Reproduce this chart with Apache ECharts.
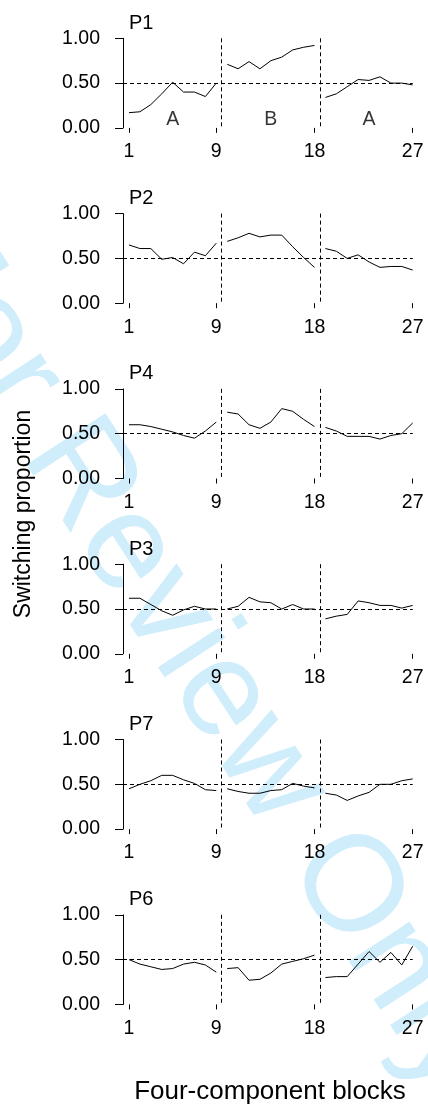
<!DOCTYPE html>
<html>
<head>
<meta charset="utf-8">
<script src="https://cdn.jsdelivr.net/npm/echarts@6/dist/echarts.min.js"></script>
<style>
  html, body { margin: 0; padding: 0; background: #fff; }
  #main { width: 428px; height: 1104px; }
</style>
</head>
<body>
<div id="main"></div>
<script>
// proportions per block (27 blocks: A 1-9, B 10-18, A 19-27)
const panelNames = ['P1', 'P2', 'P4', 'P3', 'P7', 'P6'];
const p1 = [0.17, 0.18, 0.26, 0.38, 0.51, 0.40, 0.40, 0.35, 0.50,
            0.71, 0.66, 0.74, 0.66, 0.75, 0.79, 0.87, 0.90, 0.92,
            0.34, 0.38, 0.46, 0.54, 0.53, 0.57, 0.50, 0.50, 0.48];
const p2 = [0.65, 0.61, 0.61, 0.49, 0.51, 0.44, 0.57, 0.53, 0.67,
            0.69, 0.73, 0.78, 0.74, 0.76, 0.76, 0.63, 0.51, 0.40,
            0.61, 0.58, 0.50, 0.54, 0.46, 0.40, 0.41, 0.41, 0.37];
const p4 = [0.60, 0.60, 0.58, 0.55, 0.52, 0.48, 0.45, 0.53, 0.63,
            0.74, 0.72, 0.60, 0.56, 0.63, 0.78, 0.75, 0.66, 0.58,
            0.57, 0.53, 0.47, 0.47, 0.47, 0.44, 0.48, 0.50, 0.62];
const p3 = [0.62, 0.62, 0.55, 0.48, 0.43, 0.49, 0.53, 0.50, 0.50,
            0.50, 0.53, 0.63, 0.58, 0.57, 0.50, 0.55, 0.50, 0.50,
            0.39, 0.42, 0.44, 0.59, 0.57, 0.54, 0.54, 0.51, 0.54];
const p7 = [0.45, 0.50, 0.54, 0.60, 0.60, 0.55, 0.51, 0.44, 0.43,
            0.45, 0.42, 0.40, 0.40, 0.43, 0.44, 0.51, 0.48, 0.46,
            0.40, 0.38, 0.32, 0.37, 0.41, 0.50, 0.50, 0.54, 0.56];
const p6 = [0.50, 0.45, 0.42, 0.39, 0.40, 0.45, 0.47, 0.44, 0.36,
            0.40, 0.41, 0.27, 0.28, 0.35, 0.45, 0.48, 0.51, 0.55,
            0.30, 0.31, 0.31, 0.45, 0.59, 0.47, 0.58, 0.44, 0.65];
const panelData = [p1, p2, p4, p3, p7, p6];

const xTicks = [1, 9, 18, 27];
const blockBreaks = [9.5, 18.5];
const blockNames = ['A', 'B', 'A'];
const blockMid = [5, 14, 23];

const FONT = 'Liberation Sans, Arial, Helvetica, sans-serif';
const TOP0 = 38.3, STEP = 175.3, H = 89.6;

let grids = [], xAxes = [], yAxes = [], series = [], graphics = [];

// watermark behind everything
graphics.push({
  type: 'text', x: 195, y: 655, rotation: -57 * Math.PI / 180, z: -10,
  style: { text: 'For Review Only', font: '137px ' + FONT, fill: '#cfedfb',
           textAlign: 'center', textVerticalAlign: 'middle' }
});

panelData.forEach((vals, i) => {
  let top = TOP0 + STEP * i;
  grids.push({ left: 123, right: 15.3, top: top, height: H, outerBoundsMode: 'none' });
  xAxes.push({
    gridIndex: i, type: 'value', min: 0.45, max: 27, offset: 4,
    axisLine: { show: false },
    axisTick: { show: true, length: 5, customValues: xTicks, lineStyle: { color: '#000', width: 1 } },
    axisLabel: { customValues: xTicks, margin: 10, color: '#000', fontSize: 19.5, fontFamily: FONT },
    splitLine: { show: false }
  });
  yAxes.push({
    gridIndex: i, type: 'value', min: 0, max: 1, interval: 0.5,
    axisLine: { show: true, lineStyle: { color: '#000', width: 1 } },
    axisTick: { show: true, length: 8, lineStyle: { color: '#000', width: 1 } },
    axisLabel: { margin: 23, color: '#000', fontSize: 19.5, fontFamily: FONT,
                 formatter: v => v.toFixed(2) },
    splitLine: { show: false }
  });

  // three block segments, not joined across the breaks
  for (let k = 0; k < 3; k++) {
    let seg = vals.slice(k * 9, k * 9 + 9).map((v, j) => [k * 9 + j + 1, v]);
    let s = {
      type: 'line', xAxisIndex: i, yAxisIndex: i, data: seg,
      showSymbol: false, symbol: 'none', silent: true, z: 3,
      lineStyle: { color: '#000', width: 1 }
    };
    if (k === 0) {
      s.markLine = {
        silent: true, symbol: 'none', animation: false,
        label: { show: false },
        lineStyle: { color: '#000', width: 1, type: [4, 3] },
        data: [
          [{ coord: [0.45, 0.5] }, { coord: [27, 0.5] }],
          ...blockBreaks.map(b => [{ coord: [b, 1] }, { coord: [b, 0] }])
        ]
      };
    }
    series.push(s);
  }

  graphics.push({
    type: 'text', x: 129, y: top - 15,
    style: { text: panelNames[i], font: '20px ' + FONT, fill: '#000', textVerticalAlign: 'middle' }
  });
});

// block letters in the first panel
series.push({
  type: 'scatter', xAxisIndex: 0, yAxisIndex: 0, symbolSize: 0, silent: true,
  data: blockNames.map((n, j) => ({ name: n, value: [blockMid[j], 0.09] })),
  label: { show: true, position: 'inside', formatter: p => p.name,
           color: '#000', fontSize: 19.5, fontFamily: FONT }
});

graphics.push({
  type: 'text', x: 24, y: 514, rotation: Math.PI / 2,
  style: { text: 'Switching proportion', font: '23px ' + FONT, fill: '#000',
           textAlign: 'center', textVerticalAlign: 'middle' }
});
graphics.push({
  type: 'text', x: 270, y: 1092,
  style: { text: 'Four-component blocks', font: '26px ' + FONT, fill: '#000',
           textAlign: 'center', textVerticalAlign: 'middle' }
});

let myChart = echarts.init(document.getElementById('main'));
myChart.setOption({
  animation: false,
  backgroundColor: '#fff',
  grid: grids,
  xAxis: xAxes,
  yAxis: yAxes,
  series: series,
  graphic: graphics
});
</script>
</body>
</html>
